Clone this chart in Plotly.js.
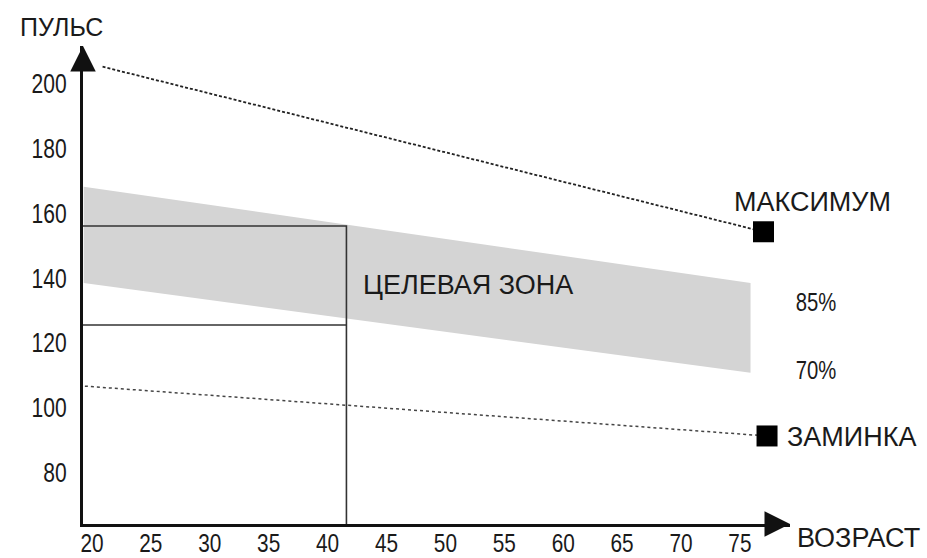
<!DOCTYPE html>
<html>
<head>
<meta charset="utf-8">
<script src="https://cdn.plot.ly/plotly-3.0.1.min.js"></script>
<style>html,body{margin:0;padding:0;background:#fff;}#chart{width:927px;height:558px;}</style>
</head>
<body>
<div id="chart"></div>
<script>
// ---- data ----
const zoneAges = [19.3, 75.9];
const zoneUpper = [168.2, 138.5];   // 85%
const zoneLower = [138.5, 110.7];   // 70%
const maxAges = [20.9, 77.0];
const maxPulse = [205.3, 154.3];
const cooldownAges = [19.4, 77.3];
const cooldownPulse = [106.6, 91.2];
const targetAge = 41.6;
const targetHigh = 156.1;
const targetLow = 125.5;
const xTicks = [20, 25, 30, 35, 40, 45, 50, 55, 60, 65, 70, 75];
const yTicks = [80, 100, 120, 140, 160, 180, 200];
const xRange = [19.24, 79.25];
const yRange = [64.0, 211.7];

// ---- layout geometry ----
const W = 927, H = 558;
const L = 83, R = 790, T = 46, B = 524;
const px = x => (x - L) / (R - L);
const py = y => (B - y) / (B - T);

const LABEL_FONT = 'Liberation Sans, Arial, sans-serif';
const NUM_FONT = 'Liberation Sans, Arial, sans-serif';
const INK = '#1a1a1a';

const traces = [
  {x: zoneAges, y: zoneLower, mode: 'lines', line: {width: 0, color: '#d4d4d4'}, hoverinfo: 'skip', showlegend: false},
  {x: zoneAges, y: zoneUpper, mode: 'lines', line: {width: 0, color: '#d4d4d4'}, fill: 'tonexty', fillcolor: '#d4d4d4', hoverinfo: 'skip', showlegend: false},
  {x: [xRange[0], targetAge, targetAge], y: [targetHigh, targetHigh, yRange[0]], mode: 'lines', line: {width: 1.6, color: '#333'}, showlegend: false, hoverinfo: 'skip'},
  {x: [xRange[0], targetAge], y: [targetLow, targetLow], mode: 'lines', line: {width: 1.6, color: '#333'}, showlegend: false, hoverinfo: 'skip'},
  {x: maxAges, y: maxPulse, mode: 'lines', line: {width: 1.8, color: '#222', dash: '3px,2px'}, showlegend: false, hoverinfo: 'skip'},
  {x: cooldownAges, y: cooldownPulse, mode: 'lines', line: {width: 1.5, color: '#444', dash: 'dot'}, showlegend: false, hoverinfo: 'skip'},
  {x: [maxAges[1], cooldownAges[1]], y: [maxPulse[1], cooldownPulse[1]], mode: 'markers', marker: {symbol: 'square', size: 21, color: '#000'}, cliponaxis: false, showlegend: false, hoverinfo: 'skip'}
];

const ann = (x, y, text, opts) => Object.assign({xref: 'paper', yref: 'paper', x: px(x), y: py(y), text: text, showarrow: false, xanchor: 'center', yanchor: 'middle', font: {family: LABEL_FONT, size: 27, color: INK}}, opts || {});

const layout = {
  width: W, height: H,
  margin: {l: L, r: W - R, t: T, b: H - B, pad: 0},
  paper_bgcolor: '#fff', plot_bgcolor: '#fff',
  showlegend: false,
  xaxis: {
    range: xRange, tickvals: xTicks, ticktext: xTicks.map(String),
    showgrid: false, zeroline: false, showline: true, linewidth: 3, linecolor: '#111',
    ticks: '',
    tickfont: {family: NUM_FONT, size: 26, color: INK}
  },
  yaxis: {
    range: yRange, tickvals: yTicks, ticktext: yTicks.map(String),
    showgrid: false, zeroline: false, showline: true, linewidth: 3, linecolor: '#111',
    ticks: 'outside', ticklen: 8, tickcolor: 'rgba(0,0,0,0)',
    tickfont: {family: NUM_FONT, size: 27, color: INK}
  },
  annotations: [
    // axis arrowheads
    {xref: 'paper', yref: 'paper', x: px(L), y: py(T), ax: 0, ay: 24, text: '', showarrow: true, arrowhead: 2, arrowsize: 1.7, arrowwidth: 3, arrowcolor: '#111', standoff: 0},
    {xref: 'paper', yref: 'paper', x: px(R), y: py(B), ax: -24, ay: 0, text: '', showarrow: true, arrowhead: 2, arrowsize: 1.7, arrowwidth: 3, arrowcolor: '#111', standoff: 0},
    ann(61, 27, 'ПУЛЬС', {font: {family: LABEL_FONT, size: 25, color: INK}}),
    ann(858, 538, 'ВОЗРАСТ', {font: {family: LABEL_FONT, size: 27, color: INK}}),
    ann(813, 202, 'МАКСИМУМ'),
    ann(852, 437, 'ЗАМИНКА'),
    ann(468, 285, 'ЦЕЛЕВАЯ ЗОНА'),
    ann(816, 302, '85%', {font: {family: NUM_FONT, size: 26, color: INK}}),
    ann(816, 370, '70%', {font: {family: NUM_FONT, size: 26, color: INK}})
  ]
};

// narrow the numeric labels (reference uses a condensed face)
function condense(el, k, dy) {
  try {
    const bb = el.getBBox();
    const cx = bb.x + bb.width / 2;
    const cy = bb.y + bb.height / 2;
    const t = el.getAttribute('transform') || '';
    el.setAttribute('transform', t + ' translate(0,' + (dy || 0) + ') translate(' + cx + ',' + cy + ') scale(' + k + ',1) translate(' + (-cx) + ',' + (-cy) + ')');
  } catch (e) {}
}

Plotly.newPlot('chart', traces, layout, {displayModeBar: false, staticPlot: true}).then(function (gd) {
  gd.querySelectorAll('.xtick text').forEach(el => condense(el, 0.8, -6));
  gd.querySelectorAll('.ytick text').forEach(el => {
    try {
      const bb = el.getBBox();
      const rx = bb.x + bb.width;
      const t = el.getAttribute('transform') || '';
      el.setAttribute('transform', t + ' translate(' + rx + ',0) scale(0.78,1) translate(' + (-rx) + ',0)');
    } catch (e) {}
  });
  gd.querySelectorAll('.annotation-text').forEach(el => {
    const s = el.textContent;
    if (s === '85%' || s === '70%') condense(el, 0.78, 0);
  });
});
</script>
</body>
</html>
